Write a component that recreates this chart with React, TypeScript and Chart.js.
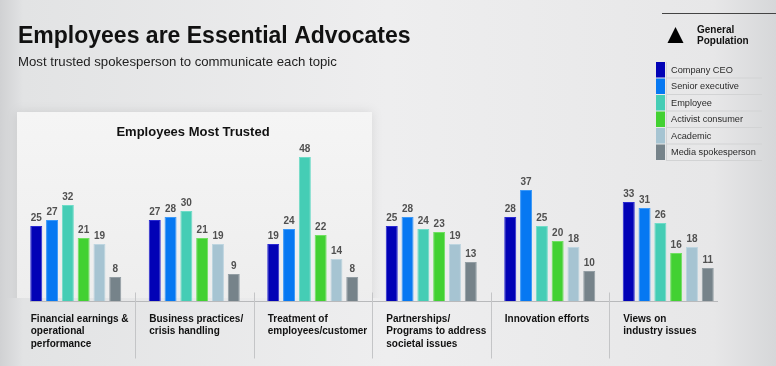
import React, { useEffect, useRef } from "react";
import { Chart, registerables } from "chart.js";

Chart.register(...registerables);

const categories: string[][] = [
  ["Financial earnings &", "operational", "performance"],
  ["Business practices/", "crisis handling"],
  ["Treatment of", "employees/customer"],
  ["Partnerships/", "Programs to address", "societal issues"],
  ["Innovation efforts"],
  ["Views on", "industry issues"],
];

const seriesNames = [
  "Company CEO",
  "Senior executive",
  "Employee",
  "Activist consumer",
  "Academic",
  "Media spokesperson",
];

const companyCEO = [25, 27, 19, 25, 28, 33];
const seniorExecutive = [27, 28, 24, 28, 37, 31];
const employee = [32, 30, 48, 24, 25, 26];
const activistConsumer = [21, 21, 22, 23, 20, 16];
const academic = [19, 19, 14, 19, 18, 18];
const mediaSpokesperson = [8, 9, 8, 13, 10, 11];

const seriesValues = [
  companyCEO,
  seniorExecutive,
  employee,
  activistConsumer,
  academic,
  mediaSpokesperson,
];

const colors = ["#0202b6", "#0678f2", "#45cdb5", "#42d132", "#a6c4d2", "#76838a"];
const borders = ["#2a2ad2", "#3a98f8", "#6fdcc8", "#6fe060", "#bdd5e0", "#939ea4"];

const FONT = "'Liberation Sans', Arial, Helvetica, sans-serif";

const decorPlugin = {
  id: "decor",
  beforeDraw(chart: any) {
    const { ctx, width, height } = chart;
    ctx.save();
    // background
    const g = ctx.createLinearGradient(0, 0, width, 0);
    g.addColorStop(0, "#d0d1d3");
    g.addColorStop(0.03, "#e2e3e4");
    g.addColorStop(0.5, "#eeeeef");
    g.addColorStop(0.92, "#e7e7e8");
    g.addColorStop(1, "#d6d7d9");
    ctx.fillStyle = g;
    ctx.fillRect(0, 0, width, height);

    // highlighted panel (fades towards the bottom)
    ctx.save();
    ctx.beginPath();
    ctx.rect(0, 0, width, 298);
    ctx.clip();
    ctx.shadowColor = "rgba(0,0,0,0.10)";
    ctx.shadowBlur = 10;
    const pg = ctx.createLinearGradient(0, 112, 0, 310);
    pg.addColorStop(0, "#f5f5f5");
    pg.addColorStop(1, "#ededed");
    ctx.fillStyle = pg;
    ctx.fillRect(17, 112, 355, 205);
    ctx.restore();

    // titles
    ctx.fillStyle = "#111";
    ctx.textAlign = "left";
    ctx.textBaseline = "alphabetic";
    ctx.font = `bold 23px ${FONT}`;
    ctx.fillText("Employees are Essential Advocates", 18, 43);
    ctx.fillStyle = "#222";
    ctx.font = `13.2px ${FONT}`;
    ctx.fillText("Most trusted spokesperson to communicate each topic", 18, 66);

    ctx.fillStyle = "#111";
    ctx.font = `bold 13px ${FONT}`;
    ctx.textAlign = "center";
    ctx.fillText("Employees Most Trusted", 193, 136);

    // legend header
    ctx.strokeStyle = "#444";
    ctx.lineWidth = 1;
    ctx.beginPath();
    ctx.moveTo(662, 13.5);
    ctx.lineTo(776, 13.5);
    ctx.stroke();
    ctx.fillStyle = "#000";
    ctx.beginPath();
    ctx.moveTo(675.5, 27);
    ctx.lineTo(683.5, 43);
    ctx.lineTo(667.5, 43);
    ctx.closePath();
    ctx.fill();
    ctx.fillStyle = "#111";
    ctx.textAlign = "left";
    ctx.font = `bold 10px ${FONT}`;
    ctx.fillText("General", 697, 33);
    ctx.fillText("Population", 697, 44);

    // legend items
    const top = 62;
    const rowH = 16.5;
    seriesNames.forEach((name, i) => {
      const y = top + i * rowH;
      ctx.fillStyle = colors[i];
      ctx.fillRect(656, y, 9, rowH - 1);
      ctx.fillStyle = "#2a2a2a";
      ctx.font = `9.2px ${FONT}`;
      ctx.textBaseline = "middle";
      ctx.fillText(name, 671, y + rowH / 2);
      ctx.strokeStyle = "#d2d3d4";
      ctx.beginPath();
      ctx.moveTo(666, y + rowH - 0.5);
      ctx.lineTo(762, y + rowH - 0.5);
      ctx.stroke();
    });
    ctx.strokeStyle = "#d2d3d4";
    ctx.beginPath();
    ctx.moveTo(666.5, top);
    ctx.lineTo(666.5, top + rowH * 6);
    ctx.stroke();
    ctx.restore();
  },
  afterDatasetsDraw(chart: any) {
    const { ctx } = chart;
    const xScale = chart.scales.x;
    const yScale = chart.scales.y;
    ctx.save();
    // baseline
    const y0 = Math.round(yScale.getPixelForValue(0)) + 0.5;
    ctx.strokeStyle = "#b8b9bb";
    ctx.lineWidth = 1;
    ctx.beginPath();
    ctx.moveTo(30, y0);
    ctx.lineTo(718, y0);
    ctx.stroke();

    // separators
    ctx.strokeStyle = "#c4c5c7";
    for (let i = 0; i < categories.length - 1; i++) {
      const x = Math.round((xScale.getPixelForValue(i) + xScale.getPixelForValue(i + 1)) / 2) + 0.5;
      ctx.beginPath();
      ctx.moveTo(x, y0 - 9);
      ctx.lineTo(x, y0 + 57);
      ctx.stroke();
    }

    // value labels
    ctx.font = `bold 10px ${FONT}`;
    ctx.fillStyle = "#505050";
    ctx.textAlign = "center";
    ctx.textBaseline = "alphabetic";
    chart.data.datasets.forEach((ds: any, di: number) => {
      const meta = chart.getDatasetMeta(di);
      meta.data.forEach((bar: any, i: number) => {
        ctx.fillText(String(ds.data[i]), bar.x, bar.y - 5);
      });
    });

    // category labels
    ctx.textAlign = "left";
    ctx.fillStyle = "#111";
    ctx.font = `bold 10px ${FONT}`;
    const firstMeta = chart.getDatasetMeta(0);
    categories.forEach((lines, i) => {
      const bar = firstMeta.data[i];
      const x = bar.x - bar.width / 2 + 0.5;
      lines.forEach((ln, li) => {
        ctx.fillText(ln, x, y0 + 20 + li * 12.5);
      });
    });
    ctx.restore();
  },
};

export default function App() {
  const ref = useRef<HTMLCanvasElement | null>(null);
  useEffect(() => {
    document.body.style.margin = "0";
    if (!ref.current) return;
    const chart = new Chart(ref.current, {
      type: "bar",
      data: {
        labels: categories.map((c) => c.join(" ")),
        datasets: seriesValues.map((vals, i) => ({
          label: seriesNames[i],
          data: vals,
          backgroundColor: colors[i],
          borderColor: borders[i],
          borderWidth: 1,
          categoryPercentage: 0.8,
          barPercentage: 0.76,
        })),
      },
      options: {
        responsive: false,
        animation: false,
        layout: { padding: { left: 16.5, right: 48.5, top: 151, bottom: 65 } },
        plugins: {
          legend: { display: false },
          tooltip: { enabled: false },
          title: { display: false },
        },
        scales: {
          x: { display: false, grid: { display: false } },
          y: { display: false, min: 0, max: 50, grid: { display: false } },
        },
      },
      plugins: [decorPlugin],
    });
    return () => chart.destroy();
  }, []);
  return (
    <div style={{ width: 776, height: 366 }}>
      <canvas ref={ref} width={776} height={366} style={{ display: "block", width: 776, height: 366 }} />
    </div>
  );
}
